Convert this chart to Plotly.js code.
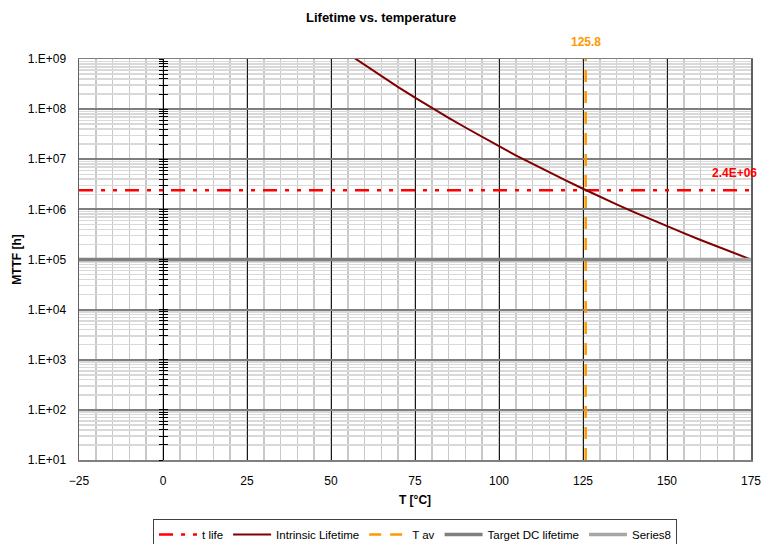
<!DOCTYPE html>
<html>
<head>
<meta charset="utf-8">
<script src="https://cdn.plot.ly/plotly-3.0.1.min.js"></script>
<style>html,body{margin:0;padding:0;background:#fff;}#chart{width:770px;height:544px;}</style>
</head>
<body>
<div id="chart"></div>
<script>
// Intrinsic lifetime curve
const tempC = [55, 60, 65, 70, 75, 80, 85, 90, 95, 100, 105, 110, 115, 120, 125, 130, 135, 140, 145, 150, 155, 160, 165, 170, 175];
const mttfH = [1.28e9, 7.6e8, 4.5e8, 2.75e8, 1.69e8, 1.05e8, 6.7e7, 4.3e7, 2.77e7, 1.82e7, 1.2e7, 8.05e6, 5.46e6, 3.73e6, 2.58e6, 1.79e6, 1.26e6, 8.95e5, 6.4e5, 4.61e5, 3.35e5, 2.45e5, 1.8e5, 1.34e5, 1.0e5];

// Reference lines
const tLife = 2.4e6;
const tLifeX = [-25, 175];
const tAv = 125.8;
const tAvY = [1e1, 1e9];
const targetDC = 1e5;
const targetDCX = [-25, 150];
const series8X = [150, 175];

// Axis ticks
const xTicks = [-25, 0, 25, 50, 75, 100, 125, 150, 175];
const yTickVals = [1e1, 1e2, 1e3, 1e4, 1e5, 1e6, 1e7, 1e8, 1e9];
const yTickText = ["1.E+01", "1.E+02", "1.E+03", "1.E+04", "1.E+05", "1.E+06", "1.E+07", "1.E+08", "1.E+09"];
const tAvLabel = "125.8";
const tLifeLabel = "2.4E+06";

const minorVals = [];
for (let i = 0; i < yTickVals.length - 1; i++) {
  for (let k = 2; k <= 9; k++) minorVals.push(k * yTickVals[i]);
}

const FONT = "Liberation Sans, Arial, sans-serif";

const traces = [
  {x: tLifeX, y: [tLife, tLife], mode: "lines", name: "t life",
   line: {color: "#FF0000", width: 2.5, dash: "14px,8px,4px,8px,4px,8px"}, hoverinfo: "skip"},
  {x: tempC, y: mttfH, mode: "lines", name: "Intrinsic Lifetime",
   line: {color: "#800000", width: 2}},
  {x: [tAv, tAv], y: tAvY, mode: "lines", name: "T av",
   line: {color: "#FF9900", width: 2.5, dash: "12px,9px"}},
  {x: targetDCX, y: [targetDC, targetDC], mode: "lines", name: "Target DC lifetime",
   line: {color: "#808080", width: 3.5}},
  {x: series8X, y: [targetDC, targetDC], mode: "lines", name: "Series8",
   line: {color: "#A6A6A6", width: 3.5}},
  {x: [null], y: [null], yaxis: "y2", showlegend: false, hoverinfo: "skip", mode: "lines"},
  {x: [null], y: [null], yaxis: "y3", showlegend: false, hoverinfo: "skip", mode: "lines"}
];

const crossAxis = (side) => ({
  type: "log", range: [1, 9], overlaying: "y", anchor: "free", position: 0.125,
  side: "left", showgrid: false, zeroline: false, showticklabels: false,
  showline: true, linecolor: "#000", linewidth: 1,
  tickmode: "array", tickvals: yTickVals, ticks: side, ticklen: 4, tickwidth: 1, tickcolor: "#000",
  minor: {tickmode: "array", tickvals: minorVals, ticks: side, ticklen: 4, tickwidth: 1, tickcolor: "#000", showgrid: false}
});

const layout = {
  width: 770, height: 544,
  margin: {l: 79, r: 19, t: 59, b: 84, autoexpand: false},
  paper_bgcolor: "#fff", plot_bgcolor: "#fff",
  font: {family: FONT, size: 12, color: "#000"},
  title: {text: "<b>Lifetime vs. temperature</b>", x: 0.495, xref: "container", y: 0.968, yanchor: "middle",
          font: {family: FONT, size: 13, color: "#000"}},
  showlegend: true,
  legend: {orientation: "h", x: 0.5, xanchor: "center", y: -0.147, yanchor: "top",
           bordercolor: "#404040", borderwidth: 1, bgcolor: "#fff",
           font: {family: FONT, size: 11.5, color: "#000"}, itemwidth: 38, tracegroupgap: 0},
  xaxis: {
    range: [-25, 175], tickmode: "array", tickvals: xTicks, ticks: "",
    showgrid: true, gridcolor: "#1a1a1a", gridwidth: 1, zeroline: false,
    showline: true, linecolor: "#7f7f7f", linewidth: 1.5, mirror: true,
    ticklabelstandoff: 9,
    minor: {dtick: 5, showgrid: true, gridcolor: "#c8c8c8", gridwidth: 1.5, ticks: ""},
    title: {text: "<b>T [°C]</b>", font: {family: FONT, size: 12}, standoff: 8}
  },
  yaxis: {
    type: "log", range: [1, 9], tickmode: "array", tickvals: yTickVals, ticktext: yTickText, ticks: "",
    showgrid: true, gridcolor: "#7f7f7f", gridwidth: 2, zeroline: false,
    showline: true, linecolor: "#606060", linewidth: 1.5, mirror: true,
    ticklabelstandoff: 9,
    minor: {tickmode: "array", tickvals: minorVals, showgrid: true, gridcolor: "#d9d9d9", gridwidth: 1.5, ticks: ""},
    title: {text: "<b>MTTF [h]</b>", font: {family: FONT, size: 12}, standoff: 3}
  },
  yaxis2: crossAxis("outside"),
  yaxis3: crossAxis("inside"),
  annotations: [
    {x: tAv, y: 1, xref: "x", yref: "paper", yanchor: "bottom", yshift: 8, text: "<b>" + tAvLabel + "</b>",
     showarrow: false, font: {family: FONT, size: 12, color: "#FF9900"}},
    {x: 170, y: Math.log10(tLife), xref: "x", yref: "y", yanchor: "bottom", yshift: 8, text: "<b>" + tLifeLabel + "</b>",
     showarrow: false, font: {family: FONT, size: 12, color: "#FF0000"}}
  ]
};

Plotly.newPlot("chart", traces, layout, {displayModeBar: false, staticPlot: true});
</script>
</body>
</html>
